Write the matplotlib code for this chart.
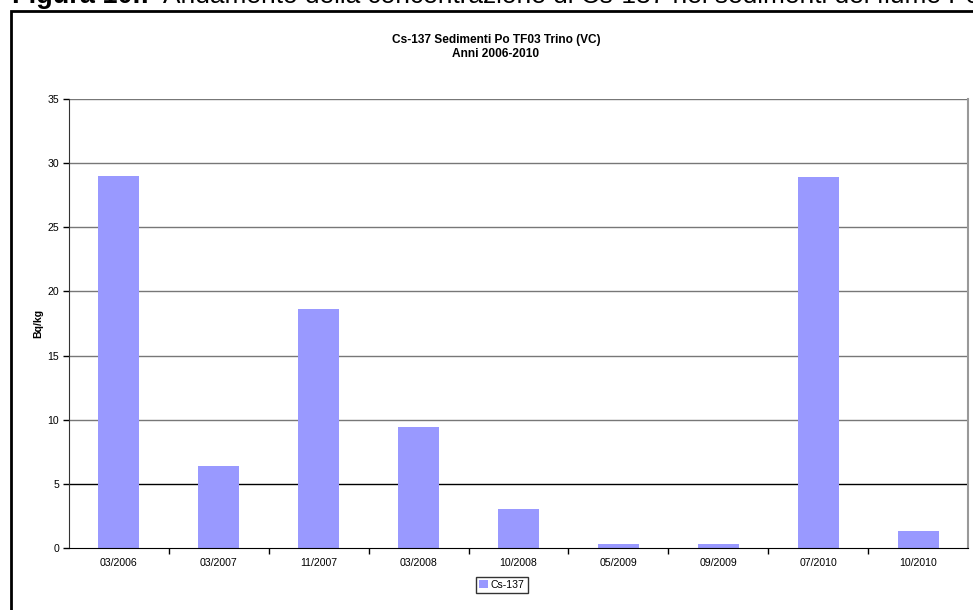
import matplotlib
matplotlib.use("Agg")
import matplotlib.pyplot as plt
from matplotlib.patches import Rectangle, Patch

plt.rcParams['font.family'] = ['Liberation Sans', 'DejaVu Sans']

categories = ["03/2006", "03/2007", "11/2007", "03/2008", "10/2008",
              "05/2009", "09/2009", "07/2010", "10/2010"]
values = [29.0, 6.4, 18.6, 9.4, 3.05, 0.3, 0.3, 28.9, 1.3]
yticks = [0, 5, 10, 15, 20, 25, 30, 35]
series_name = "Cs-137"
title = "Cs-137 Sedimenti Po TF03 Trino (VC)\nAnni 2006-2010"
ylabel = "Bq/kg"

W, H = 973, 610
fig = plt.figure(figsize=(W / 100, H / 100), dpi=100)

# caption partially cut at top
fig.text(12 / W, 1 - 3 / H, "Figura 10.:", fontsize=19.5, fontweight='bold',
         ha='left', va='baseline')
fig.text(163 / W, 1 - 3 / H,
         "Andamento della concentrazione di Cs-137 nei sedimenti del fiume Po",
         fontsize=18.9, ha='left', va='baseline')

# outer frame
fig.patches.append(Rectangle((10.5 / W, -0.05), 1.2, 1 - 11 / H + 0.05,
                             transform=fig.transFigure, fill=False,
                             edgecolor='black', linewidth=2))

ax = fig.add_axes([69 / W, 1 - 548 / H, (968 - 69) / W, (548 - 99) / H])
x = list(range(len(categories)))
ax.bar(x, values, width=0.41, color='#9999FF', zorder=2, label=series_name)
ax.set_xlim(-0.5, len(categories) - 0.5)
ax.set_ylim(0, 35)
ax.set_yticks(yticks)
ax.set_yticklabels([str(v) for v in yticks], fontsize=7.6)
for v in yticks[1:]:
    ax.axhline(v, color='black' if v == 5 else '#777777', linewidth=1, zorder=1)

ax.set_xticks([i + 0.5 for i in x[:-1]])
ax.set_xticklabels([])
ax.set_xticks(x, minor=True)
ax.set_xticklabels(categories, minor=True, fontsize=7.6)
ax.tick_params(axis='x', which='major', direction='out', length=4, width=1)
ax.tick_params(axis='x', which='minor', length=0, pad=7)
ax.tick_params(axis='y', direction='out', length=4, width=1, pad=3)

ax.spines['top'].set_visible(False)
ax.spines['right'].set_color('#999999')
ax.spines['right'].set_linewidth(1.5)
ax.spines['left'].set_color('#333333')
ax.spines['bottom'].set_color('black')

ax.set_ylabel(ylabel, fontsize=7.6, fontweight='bold', labelpad=3)

fig.text(496 / W, 1 - 47 / H, title, fontsize=8.6, fontweight='bold',
         ha='center', va='center', linespacing=1.25)

leg = fig.legend(handles=[Patch(facecolor='#9999FF', label=series_name)],
                 loc='center', bbox_to_anchor=(502 / W, 1 - 585 / H),
                 fontsize=7.6, frameon=True, fancybox=False,
                 handlelength=0.8, handleheight=0.8, handletextpad=0.3,
                 borderpad=0.3, borderaxespad=0)
leg.get_frame().set_edgecolor('black')
leg.get_frame().set_linewidth(1)

fig.savefig("out.png", dpi=100)
